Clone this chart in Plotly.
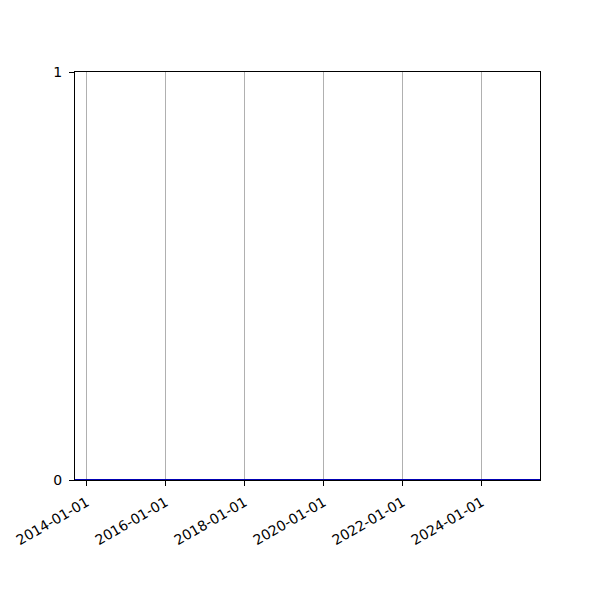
import plotly.graph_objects as go

# series: all zero over the whole period
dates = ["2013-09-15", "2014-01-01", "2016-01-01", "2018-01-01", "2020-01-01",
         "2022-01-01", "2024-01-01", "2025-06-23"]
values = [0, 0, 0, 0, 0, 0, 0, 0]

tick_dates = ["2014-01-01", "2016-01-01", "2018-01-01", "2020-01-01",
              "2022-01-01", "2024-01-01"]
y_ticks = [0, 1]

fig = go.Figure()
fig.add_trace(
    go.Scatter(
        x=dates,
        y=values,
        mode="lines",
        line=dict(color="#0000b4", width=2),
        cliponaxis=False,
    )
)

axis_style = dict(
    showline=True,
    linecolor="black",
    linewidth=1,
    mirror=True,
    ticks="outside",
    ticklen=5,
    tickcolor="black",
    zeroline=False,
    automargin=False,
    layer="below traces",
    tickfont=dict(family="DejaVu Sans", size=14, color="black"),
)

fig.update_xaxes(
    range=[dates[0], dates[-1]],
    tickvals=tick_dates,
    ticktext=tick_dates,
    tickangle=-30,
    ticklabelstandoff=3,
    showgrid=True,
    gridcolor="#b0b0b0",
    gridwidth=1,
    **axis_style,
)
fig.update_yaxes(
    range=[0, 1],
    tickvals=y_ticks,
    ticklabelstandoff=4,
    showgrid=False,
    **axis_style,
)

# page body adds ~8px offset, so margins are shifted to compensate
fig.update_layout(
    width=600,
    height=600,
    margin=dict(l=67, r=68, t=64, b=128),
    plot_bgcolor="white",
    paper_bgcolor="white",
    showlegend=False,
)
fig.write_html("out.html")
